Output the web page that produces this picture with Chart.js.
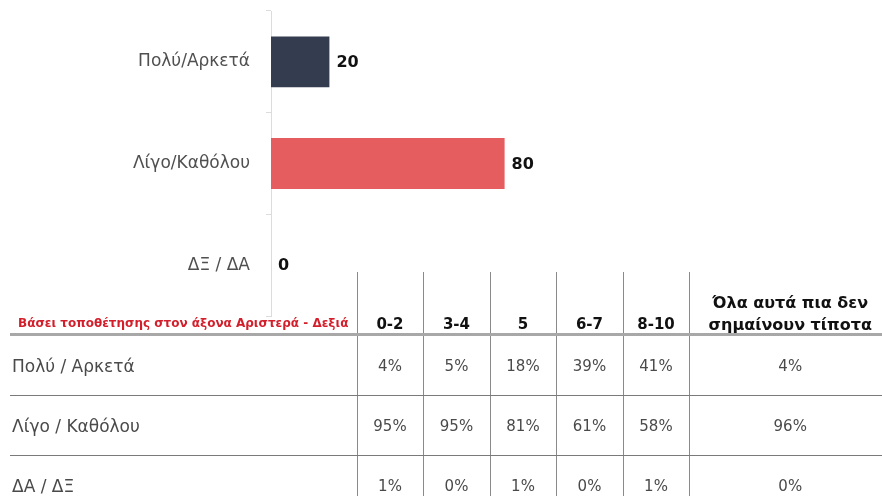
<!DOCTYPE html>
<html>
<head>
<meta charset="utf-8">
<script src="https://cdn.jsdelivr.net/npm/chart.js@4/dist/chart.umd.min.js"></script>
<style>
  html, body { margin:0; padding:0; background:#fff; }
  body { width:882px; height:496px; position:relative; overflow:hidden; font-family:"DejaVu Sans", sans-serif; }
  #c { position:absolute; left:0; top:0; }
  #tbl { position:absolute; left:10px; top:272px; width:881px; border-collapse:collapse; table-layout:fixed; }
  #tbl td, #tbl th { padding:0; white-space:nowrap; }
  #tbl thead th { height:56px; vertical-align:bottom; padding-bottom:3px; border-bottom:3px solid #a8a8a8; color:#111; font-weight:bold; font-size:15px; text-align:center; }
  #tbl thead th span { position:relative; top:3px; }
  #tbl thead th.lead { text-align:left; color:#d21f2b; font-size:12px; padding-left:8px; padding-bottom:5px; }
  #tbl thead th.lead span { top:2px; }
  #tbl thead th.wide { font-size:16px; line-height:22px; padding-bottom:1px; }
  #tbl thead th.wide span { top:4px; }
  #tbl tbody td { height:59px; border-bottom:1.5px solid #7a7a7a; color:#4a4a4a; font-size:15px; text-align:center; }
  #tbl tbody td.lead { text-align:left; padding-left:2px; font-size:17px; }
  #tbl .v { border-left:1.5px solid #8a8a8a; }
</style>
</head>
<body>
<canvas id="c" width="600" height="330"></canvas>
<table id="tbl">
  <colgroup id="cols"></colgroup>
  <thead><tr id="headRow"></tr></thead>
  <tbody id="body"></tbody>
</table>
<script>
// ---- Bar chart data ----
const categories = ["Πολύ/Αρκετά", "Λίγο/Καθόλου", "ΔΞ / ΔΑ"];
const values = [20, 80, 0];
const barColors = ["#343d50", "#e65d60", "#9a9a9a"];

// ---- Table data ----
const tableTitle = "Βάσει τοποθέτησης στον άξονα Αριστερά - Δεξιά";
const tableColumns = ["0-2", "3-4", "5", "6-7", "8-10", "Όλα αυτά πια δεν σημαίνουν τίποτα"];
const tableRows = ["Πολύ / Αρκετά", "Λίγο / Καθόλου", "ΔΑ / ΔΞ"];
const rowMuchEnough = [4, 5, 18, 39, 41, 4];
const rowLittleNone = [95, 95, 81, 61, 58, 96];
const rowDkNa = [1, 0, 1, 0, 1, 0];

// ---- Build table ----
const colWidths = [347, 66, 67, 66, 67, 66, 202];
const cg = document.getElementById('cols');
colWidths.forEach(w => { const c = document.createElement('col'); c.style.width = w + 'px'; cg.appendChild(c); });
const hr = document.getElementById('headRow');
const th0 = document.createElement('th'); th0.className = 'lead';
const s0 = document.createElement('span'); s0.textContent = tableTitle; th0.appendChild(s0); hr.appendChild(th0);
tableColumns.forEach((t, i) => {
  const th = document.createElement('th');
  const last = i === tableColumns.length - 1;
  th.className = 'v' + (last ? ' wide' : '');
  const sp = document.createElement('span');
  if (last) {
    const words = t.split(' ');
    sp.appendChild(document.createTextNode(words.slice(0, 4).join(' ')));
    sp.appendChild(document.createElement('br'));
    sp.appendChild(document.createTextNode(words.slice(4).join(' ')));
  } else sp.textContent = t;
  th.appendChild(sp);
  hr.appendChild(th);
});
const tb = document.getElementById('body');
[rowMuchEnough, rowLittleNone, rowDkNa].forEach((row, r) => {
  const tr = document.createElement('tr');
  const td0 = document.createElement('td'); td0.className = 'lead'; td0.textContent = tableRows[r]; tr.appendChild(td0);
  row.forEach(v => { const td = document.createElement('td'); td.className = 'v'; td.textContent = v + '%'; tr.appendChild(td); });
  tb.appendChild(tr);
});

// ---- Chart ----
const valueLabels = {
  id: 'valueLabels',
  afterDatasetsDraw(chart) {
    const ctx = chart.ctx;
    const meta = chart.getDatasetMeta(0);
    ctx.save();
    ctx.font = 'bold 16px "DejaVu Sans", sans-serif';
    ctx.fillStyle = '#111';
    ctx.textAlign = 'left';
    ctx.textBaseline = 'middle';
    meta.data.forEach((el, i) => {
      ctx.fillText(String(values[i]), el.x + 7, el.y + 1);
    });
    ctx.restore();
  }
};

new Chart(document.getElementById('c'), {
  type: 'bar',
  data: {
    labels: categories,
    datasets: [{
      data: values,
      backgroundColor: barColors,
      borderWidth: 0,
      categoryPercentage: 1,
      barPercentage: 0.5
    }]
  },
  options: {
    indexAxis: 'y',
    responsive: false,
    animation: false,
    layout: { padding: { top: 11, right: 37, bottom: 14, left: 0 } },
    plugins: { legend: { display: false }, tooltip: { enabled: false } },
    scales: {
      x: { display: false, min: 0, max: 100 },
      y: {
        afterFit(scale) { scale.width = 271; scale.paddingTop = 0; scale.paddingBottom = 0; },
        border: { display: true, color: '#dcdcdc', width: 1 },
        grid: { drawOnChartArea: false, tickLength: 5, color: '#dcdcdc', offset: true },
        ticks: { padding: 16, color: '#505050', font: { family: '"DejaVu Sans", sans-serif', size: 17 } }
      }
    }
  },
  plugins: [valueLabels]
});
</script>
</body>
</html>
